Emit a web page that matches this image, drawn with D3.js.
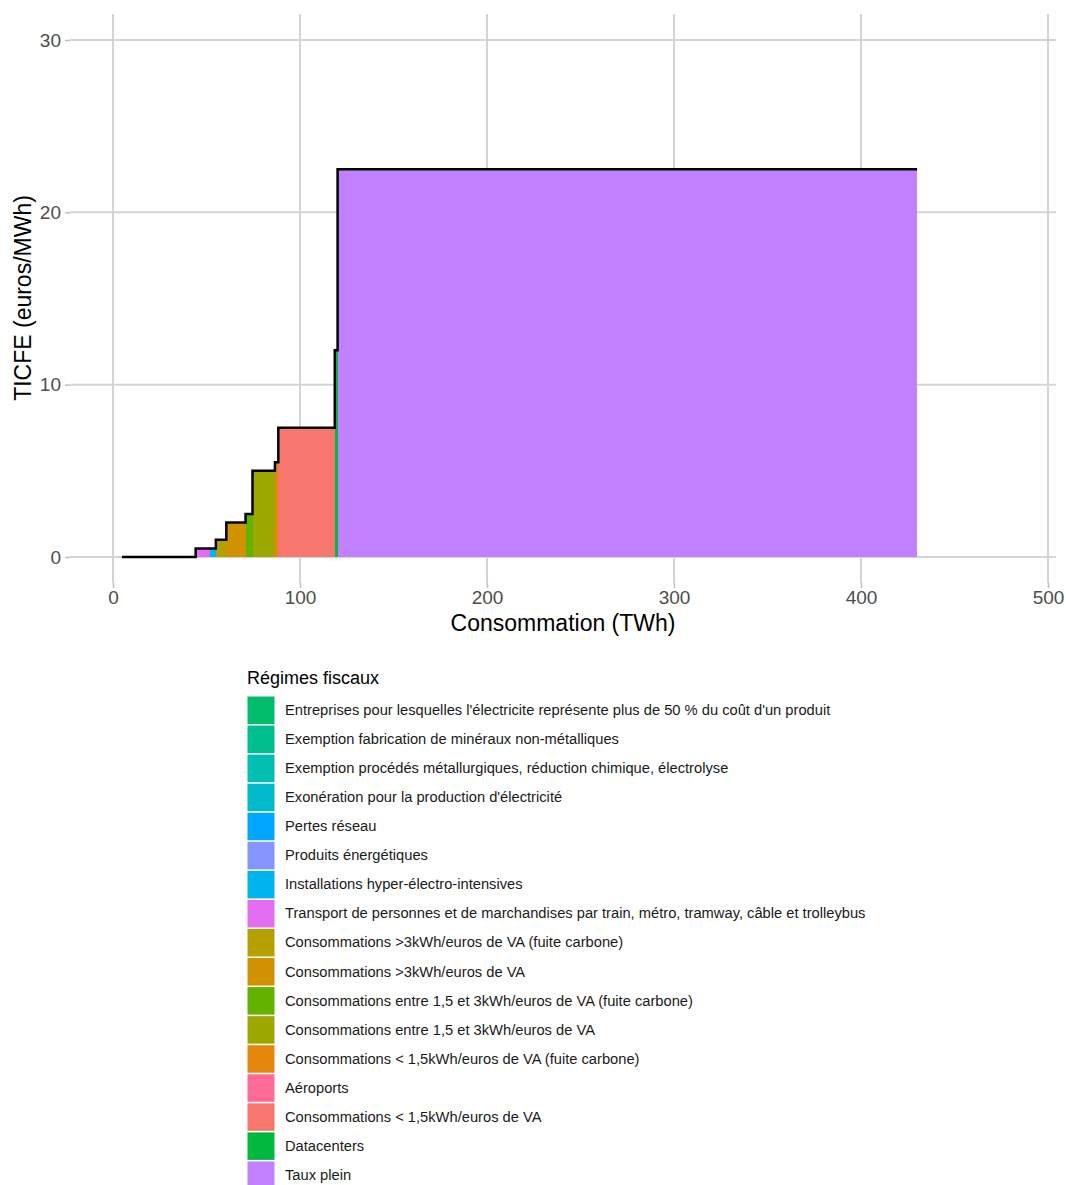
<!DOCTYPE html>
<html>
<head>
<meta charset="utf-8">
<script src="https://cdn.jsdelivr.net/npm/d3@7"></script>
<style>
  html, body { margin: 0; padding: 0; background: #fff; }
  svg { display: block; font-family: "Liberation Sans", Arial, sans-serif; }
</style>
</head>
<body>
<svg id="chart" width="1066" height="1185"></svg>
<script>
// ---- Data ----
const categories = [
  "Entreprises pour lesquelles l'électricite représente plus de 50 % du coût d'un produit",
  "Exemption fabrication de minéraux non-métalliques",
  "Exemption procédés métallurgiques, réduction chimique, électrolyse",
  "Exonération pour la production d'électricité",
  "Pertes réseau",
  "Produits énergétiques",
  "Installations hyper-électro-intensives",
  "Transport de personnes et de marchandises par train, métro, tramway, câble et trolleybus",
  "Consommations >3kWh/euros de VA (fuite carbone)",
  "Consommations >3kWh/euros de VA",
  "Consommations entre 1,5 et 3kWh/euros de VA (fuite carbone)",
  "Consommations entre 1,5 et 3kWh/euros de VA",
  "Consommations < 1,5kWh/euros de VA (fuite carbone)",
  "Aéroports",
  "Consommations < 1,5kWh/euros de VA",
  "Datacenters",
  "Taux plein"
];
const colors = [
  "#00BD6B", "#00BF8E", "#00BFB0", "#00BACB", "#00A6FF", "#8594FF",
  "#00B4EF", "#E36EF3", "#B5A000", "#D09200", "#63B200", "#9CA700",
  "#E5870F", "#FF6B96", "#F7766D", "#00B93E", "#C080FF"
];
// Segments along the consumption axis, in visual order
const segCategory = [0, 1, 2, 3, 4, 5, 7, 6, 8, 9, 10, 11, 12, 14, 13, 15, 16];
const consStart = [4.8, 8, 14, 26, 31, 42, 44.2, 52.0, 55.0, 60.6, 70.9, 74.6, 86.6, 88.4, 118.6, 118.7, 120.1];
const consEnd   = [8, 14, 26, 31, 42, 44.2, 52.0, 55.0, 60.6, 70.9, 74.6, 86.6, 88.4, 118.6, 118.7, 120.1, 430];
const ticfe     = [0, 0, 0, 0, 0, 0, 0.5, 0.5, 1, 2, 2.5, 5, 5.5, 7.5, 12, 12, 22.5];

const xTicks = [0, 100, 200, 300, 400, 500];
const yTicks = [0, 10, 20, 30];

// ---- Layout ----
const svg = d3.select("#chart");
const panel = { left: 70, right: 1056, top: 14, bottom: 583 };
const x = d3.scaleLinear().domain([0, 500]).range([113, 1048]);
const y = d3.scaleLinear().domain([0, 30]).range([557, 40]);
const gridColor = "#D4D4D4";

// grid
const grid = svg.append("g");
grid.selectAll("line.h").data(yTicks).join("line")
  .attr("x1", panel.left).attr("x2", panel.right)
  .attr("y1", d => y(d)).attr("y2", d => y(d))
  .attr("stroke", gridColor).attr("stroke-width", 2);
grid.selectAll("line.v").data(xTicks).join("line")
  .attr("y1", panel.top).attr("y2", panel.bottom)
  .attr("x1", d => x(d)).attr("x2", d => x(d))
  .attr("stroke", gridColor).attr("stroke-width", 2);

// axes
const yAxis = d3.axisLeft(y).tickValues(yTicks).tickSize(5).tickPadding(4);
const gy = svg.append("g").attr("transform", `translate(${panel.left},0)`).call(yAxis);
const xAxis = d3.axisBottom(x).tickValues(xTicks).tickSize(5).tickPadding(2);
const gx = svg.append("g").attr("transform", `translate(0,${panel.bottom})`).call(xAxis);
[gx, gy].forEach(g => {
  g.select(".domain").remove();
  g.selectAll(".tick line").attr("stroke", "#BDBDBD").attr("stroke-width", 1.5);
  g.selectAll(".tick text").attr("fill", "#4D4D4D").style("font-size", "19px")
    .style("font-family", "'Liberation Sans', Arial, sans-serif");
});
gx.selectAll(".tick text").attr("dy", "0.75em");

// filled segments
const segs = consStart.map((s, i) => ({ s, e: consEnd[i], v: ticfe[i], c: segCategory[i] }));
svg.append("g").selectAll("rect").data(segs).join("rect")
  .attr("x", d => x(d.s))
  .attr("width", d => Math.max(0, x(d.e) - x(d.s)))
  .attr("y", d => y(d.v))
  .attr("height", d => y(0) - y(d.v))
  .attr("fill", d => colors[d.c])
  .attr("shape-rendering", "crispEdges");

// step line
const pts = [];
segs.forEach(d => { pts.push([d.s, d.v]); pts.push([d.e, d.v]); });
svg.append("path")
  .attr("d", d3.line().x(d => x(d[0])).y(d => y(d[1]))(pts))
  .attr("fill", "none").attr("stroke", "#000").attr("stroke-width", 2.5)
  .attr("stroke-linejoin", "miter");

// axis titles
svg.append("text").attr("x", 563).attr("y", 631).attr("text-anchor", "middle")
  .style("font-size", "23px").attr("fill", "#000").text("Consommation (TWh)");
svg.append("text").attr("transform", "translate(31,298) rotate(-90)").attr("text-anchor", "middle")
  .style("font-size", "23px").attr("fill", "#000").text("TICFE (euros/MWh)");

// legend
const lg = svg.append("g");
lg.append("text").attr("x", 247).attr("y", 684).style("font-size", "18px").attr("fill", "#000")
  .text("Régimes fiscaux");
const items = lg.selectAll("g.item").data(categories).join("g")
  .attr("transform", (d, i) => `translate(247,${696 + i * 29.06})`);
items.append("rect").attr("x", 0.5).attr("y", 0.5).attr("width", 27).attr("height", 27.5)
  .attr("fill", (d, i) => colors[i]);
items.append("text").attr("x", 38).attr("y", 19).style("font-size", "14.7px").attr("fill", "#1a1a1a")
  .text(d => d);
</script>
</body>
</html>
